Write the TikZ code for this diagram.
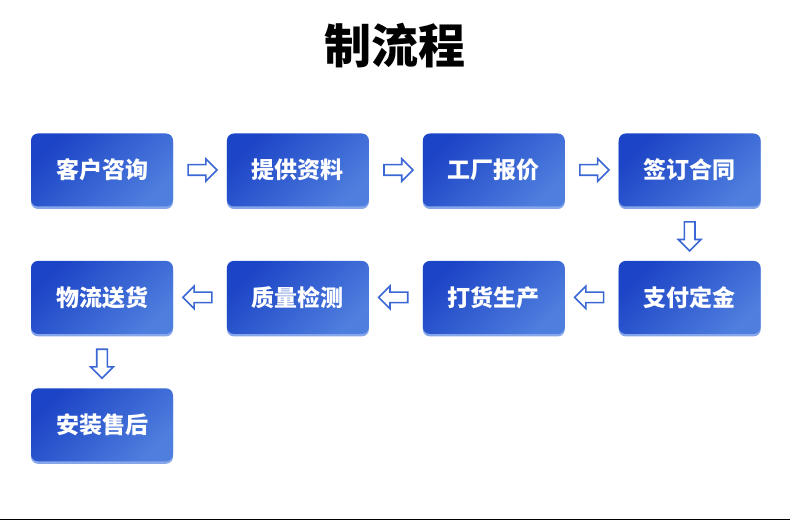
\documentclass[tikz,border=0pt]{standalone}
\usepackage{fontspec}
\usetikzlibrary{positioning,calc,shapes.arrows,shadows}
\newfontfamily\cjk{Noto Sans CJK SC}
\definecolor{boxdark}{HTML}{1C44C6}
\definecolor{boxlight}{HTML}{4E7EDE}
\definecolor{boxedge}{HTML}{86A6EA}
\definecolor{arrowblue}{HTML}{3A67D4}

\begin{document}
\begin{tikzpicture}[x=1pt, y=-1pt, node distance=54pt and 53.5pt,
    box/.style={rounded corners=7pt, minimum width=142pt, minimum height=73pt, inner sep=0pt,
        top color=boxdark, bottom color=boxlight, shading angle=45,
        drop shadow={shadow xshift=0pt, shadow yshift=-2.5pt, fill=boxedge, opacity=1},
        text=white, font=\cjk\bfseries\fontsize{23}{27}\selectfont},
    arr/.style={single arrow, draw=arrowblue, line width=1.6pt, fill=white, inner sep=4.5pt,
        minimum height=29pt, single arrow head extend=6pt, single arrow head indent=0pt}
    ]
    \useasboundingbox (0,0) rectangle (790,521);

    % Title
    \node[font=\cjk\bfseries\fontsize{47}{52}\selectfont] (title) at (395,46) {制流程};

    % First row
    \node[box] (consult) at (102,170) {客户咨询};
    \node[box, right=of consult] (docs) {提供资料};
    \node[box, right=of docs] (quote) {工厂报价};
    \node[box, right=of quote] (contract) {签订合同};
    % Second row, back to the left
    \node[box, below=of contract] (deposit) {支付定金};
    \node[box, left=of deposit] (produce) {打货生产};
    \node[box, left=of produce] (inspect) {质量检测};
    \node[box, left=of inspect] (ship) {物流送货};
    % Last step
    \node[box, below=of ship] (service) {安装售后};

    % Arrows
    \foreach \a/\b in {consult/docs, docs/quote, quote/contract}
        \node[arr] at ($(\a)!0.5!(\b)$) {};
    \foreach \a/\b in {deposit/produce, produce/inspect, inspect/ship}
        \node[arr, rotate=180] at ($(\a)!0.5!(\b)$) {};
    \foreach \a/\b in {contract/deposit, ship/service}
        \node[arr, rotate=-90] at ($(\a)!0.5!(\b)$) {};

    \draw[line width=1.5pt] (0,519.5) -- (790,519.5);
\end{tikzpicture}
\end{document}
